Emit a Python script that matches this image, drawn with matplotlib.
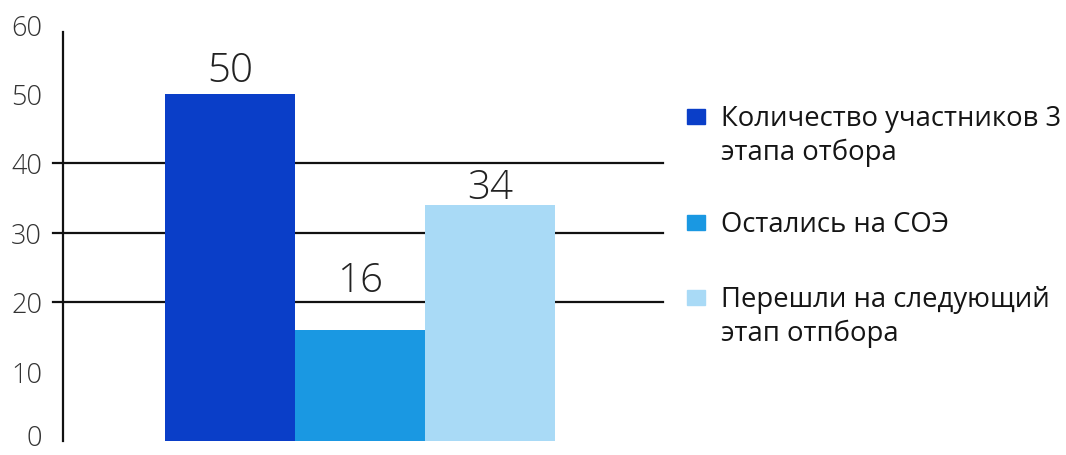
import matplotlib
matplotlib.use("Agg")
import matplotlib.pyplot as plt
from matplotlib.patches import Rectangle
from matplotlib.transforms import ScaledTranslation

# ---- data ----
categories = ["Количество участников 3\nэтапа отбора",
              "Остались на СОЭ",
              "Перешли на следующий\nэтап отпбора"]
values = [50, 16, 34]
colors = ["#0a3ec8", "#1a98e2", "#a9daf6"]
label_offsets_pt = [9, 28, 5]
yticks = [0, 10, 20, 30, 40, 50, 60]
grid_levels = [20, 30, 40]

W, H = 1066, 456
fig = plt.figure(figsize=(W / 100, H / 100), dpi=100)
plt.rcParams['font.family'] = ['Open Sans', 'DejaVu Sans']

# axes: left spine at x=63, right end 663, zero at y=442, 60 at y=25
ax = fig.add_axes([63 / W, 14 / H, 600 / W, 417 / H])
x = list(range(len(values)))
bars = ax.bar(x, values, width=1.0, color=colors, zorder=2)
ax.set_xlim(-0.5 - 102 / 130, 2.5 + 108 / 130)
ax.set_ylim(0, 60)

for gl in grid_levels:
    ax.axhline(gl, xmin=-10 / 600, xmax=1, color="#111111", lw=1.6,
               zorder=1, clip_on=False)

for s in ["top", "right", "bottom"]:
    ax.spines[s].set_visible(False)
ax.spines["left"].set_bounds(0, 58.8)
ax.spines["left"].set_linewidth(1.6)
ax.spines["left"].set_color("#111111")
ax.set_xticks([])
ax.set_yticks(yticks)
ax.set_yticklabels([str(t) for t in yticks], fontsize=19.5, color="#333333",
                   fontweight="light")
ax.tick_params(axis="y", length=0, pad=15)
# keep the bottom "0" label fully inside the figure
zero_lbl = ax.get_yticklabels()[0]
zero_lbl.set_transform(zero_lbl.get_transform() +
                       ScaledTranslation(0, 5 / 72, fig.dpi_scale_trans))

for xi, v, off in zip(x, values, label_offsets_pt):
    ax.annotate(str(v), (xi, v), xytext=(0, off), textcoords="offset points",
                ha="center", va="baseline", fontsize=29, color="#222222",
                fontweight="light")

# manual legend (squares aligned with first line)
def fx(px):
    return px / W

def fy(py):
    return 1 - py / H

first_baselines = [126, 232, 307]
line_step = 34
for lab, col, b in zip(categories, colors, first_baselines):
    fig.patches.append(Rectangle((fx(687), fy(b - 1.5)), 18 / W, 15 / H,
                                 transform=fig.transFigure, color=col))
    for k, line in enumerate(lab.split("\n")):
        fig.text(fx(721), fy(b + k * line_step), line, ha="left",
                 va="baseline", fontsize=19.8, color="#151515")

fig.savefig("out.png", dpi=100)
